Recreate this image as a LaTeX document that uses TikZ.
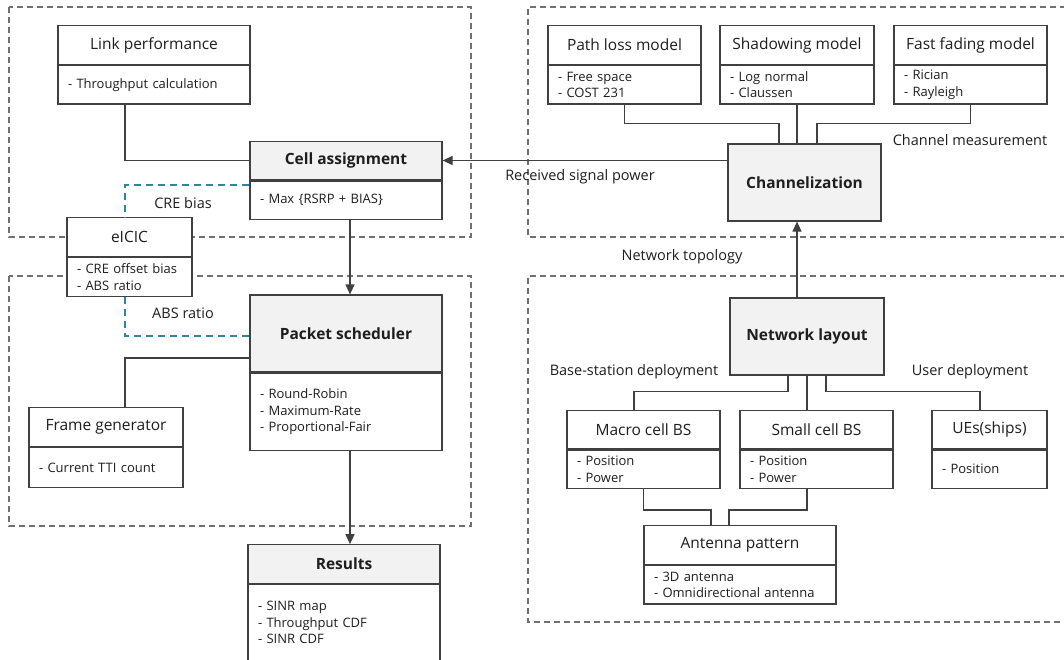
\documentclass[tikz,border=0pt]{standalone}
\usepackage{fontspec}
\setmainfont{Open Sans}
\usepackage{tikz}
\usetikzlibrary{arrows.meta}
\usetikzlibrary{positioning}

\definecolor{boxline}{HTML}{404040}
\definecolor{headfill}{HTML}{F2F2F2}
\definecolor{groupline}{HTML}{707070}
\definecolor{icic}{HTML}{31849B}
\definecolor{ink}{HTML}{1E1E1E}

\begin{document}
\begin{tikzpicture}[x=1pt, y=-1pt,
    titlebox/.style={draw=boxline, line width=1.2pt, fill=white, text=ink,
      minimum width=#1, minimum height=38.5, inner sep=0pt,
      font=\fontsize{15.5}{18}\selectfont},
    keybox/.style={titlebox=#1, fill=headfill,
      font=\bfseries\fontsize{15.5}{18}\selectfont},
    itembox/.style 2 args={draw=boxline, line width=1.2pt, fill=white, text=ink,
      text width=#1pt, minimum height=#2, inner xsep=10pt, inner ysep=0pt,
      align=left, font=\fontsize{13}{16.5}\selectfont},
    group/.style={draw=groupline, line width=1.3pt, dash pattern=on 6pt off 4pt},
    wire/.style={draw=boxline, line width=1.2pt},
    flow/.style={wire, -{Triangle[length=10pt,width=9pt]}},
    iciclink/.style={draw=icic, line width=2.2pt, dash pattern=on 7pt off 5pt},
    note/.style={text=ink, inner sep=0pt, font=\fontsize{14.5}{17}\selectfont}]
      \useasboundingbox (0,0) rectangle (1064,660);

      \draw[group] (9,7) rectangle (471,237);
      \draw[group] (9,276) rectangle (471,526);
      \draw[group] (1066,7) -- (528,7) -- (528,237) -- (1066,237);
      \draw[group] (1066,276) -- (528,276) -- (528,622) -- (1066,622);

      \node[titlebox=192] (linkh) at (154,45) {Link performance};
      \node[itembox={172}{38.5}, below=0pt of linkh] (linkb) {- Throughput calculation};

      \node[keybox=192] (cellh) at (346,160.5) {Cell assignment};
      \node[itembox={172}{38.5}, below=0pt of cellh] (cellb) {- Max \{RSRP + BIAS\}};

      \node[titlebox=125] (eicich) at (129.5,237) {eICIC};
      \node[itembox={105}{39}, below=0pt of eicich] (eicicb) {- CRE offset bias\\- ABS ratio};

      \node[keybox=192, minimum height=77] (schedh) at (346,333.5) {Packet scheduler};
      \node[itembox={172}{77}, below=0pt of schedh] (schedb) {- Round-Robin\\- Maximum-Rate\\- Proportional-Fair};

      \node[titlebox=154] (frameh) at (106,427) {Frame generator};
      \node[itembox={134}{40}, below=0pt of frameh] (frameb) {- Current TTI count};

      \node[keybox=192] (resultsh) at (344,564) {Results};
      \node[itembox={172}{76}, below=0pt of resultsh] (resultsb) {- SINR map\\- Throughput CDF\\- SINR CDF};

      \node[titlebox=153] (pathlossh) at (624.5,45) {Path loss model};
      \node[itembox={133}{38.5}, below=0pt of pathlossh] (pathlossb) {- Free space\\- COST 231};

      \node[titlebox=154] (shadowh) at (797,45) {Shadowing model};
      \node[itembox={134}{38.5}, below=0pt of shadowh] (shadowb) {- Log normal\\- Claussen};

      \node[titlebox=153] (fadingh) at (970.5,45) {Fast fading model};
      \node[itembox={133}{38.5}, below=0pt of fadingh] (fadingb) {- Rician\\- Rayleigh};

      \node[keybox=153, minimum height=77] (chan) at (804.5,182.5) {Channelization};

      \node[keybox=154, minimum height=77] (netlay) at (807,336.5) {Network layout};

      \node[titlebox=153] (macroh) at (643.5,429.5) {Macro cell BS};
      \node[itembox={133}{38.5}, below=0pt of macroh] (macrob) {- Position\\- Power};

      \node[titlebox=153] (smallh) at (816.5,429.5) {Small cell BS};
      \node[itembox={133}{38.5}, below=0pt of smallh] (smallb) {- Position\\- Power};

      \node[titlebox=115] (uesh) at (989.5,429.5) {UEs(ships)};
      \node[itembox={95}{38.5}, below=0pt of uesh] (uesb) {- Position};

      \node[titlebox=192] (antennah) at (740,545) {Antenna pattern};
      \node[itembox={172}{38.5}, below=0pt of antennah] (antennab) {- 3D antenna\\- Omnidirectional antenna};

      \draw[wire] ([xshift=-29pt]linkb.south) |- (cellh.west);
      \draw[iciclink] ([yshift=-5pt]cellb.north west) -| ([xshift=-4.5pt]eicich.north);
      \draw[iciclink] ([xshift=-4.5pt]eicicb.south) |- ([yshift=-2.5pt]schedh.west);
      \draw[wire] ([yshift=-24.5pt]schedh.west) -| ([xshift=19pt]frameh.north);
      \draw[flow] ([xshift=4pt]cellb.south) -- ([xshift=4pt]schedh.north);
      \draw[flow] ([xshift=4pt]schedb.south) -- ([xshift=4pt]schedb.south |- resultsh.north);
      \draw[flow] (chan.west |- cellh.east) -- (cellh.east);
      \draw[flow] ([xshift=-10pt]netlay.north) -- ([xshift=-10pt]netlay.north |- chan.south);

      \draw[wire] (pathlossb.south) -- ++(0,19) -| ([xshift=-25.5pt]chan.north);
      \draw[wire] (shadowb.south) -- (shadowb.south |- chan.north);
      \draw[wire] (fadingb.south) -- ++(0,19) -| ([xshift=12.5pt]chan.north);

      \draw[wire] ([xshift=-19pt]netlay.south) -- ++(0,16) -| ([xshift=-9.5pt]macroh.north);
      \draw[wire] (netlay.south) -- (netlay.south |- smallh.north);
      \draw[wire] ([xshift=19pt]netlay.south) -- ++(0,16) -| ([xshift=-9.5pt]uesh.north);
      \draw[wire] (macrob.south) -- ++(0,21) -| ([xshift=-29pt]antennah.north);
      \draw[wire] ([xshift=-9.5pt]smallb.south) -- ++(0,21) -| ([xshift=-11pt]antennah.north);

      \node[note] (rsp) at (580,177) {Received signal power};
      \node[note] (cre) at (183,203) {CRE bias};
      \node[note] (abs) at (183,313) {ABS ratio};
      \node[note] (chm) at (970,140) {Channel measurement};
      \node[note] (topo) at (682,257) {Network topology};
      \node[note] (bsd) at (634,372) {Base-station deployment};
      \node[note] (ud) at (970,372) {User deployment};
    \end{tikzpicture}
\end{document}
